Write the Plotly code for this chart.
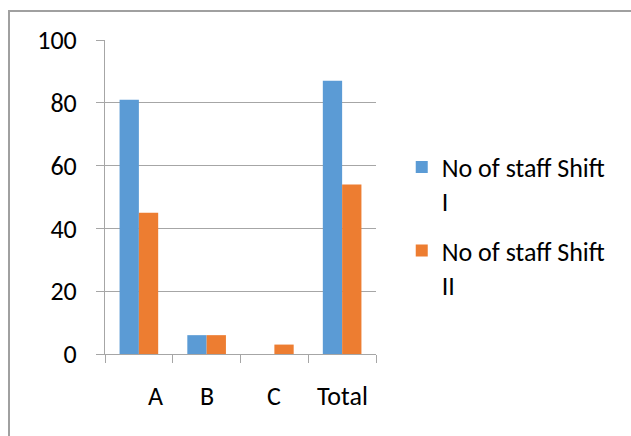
import plotly.graph_objects as go

categories = ["A", "B", "C", "Total"]
shift1 = [81, 6, 0, 87]
shift2 = [45, 6, 3, 54]
series_names = ["No of staff Shift<br>I", "No of staff Shift<br>II"]
y_ticks = [0, 20, 40, 60, 80, 100]

FONT = "Carlito, Lato, 'Open Sans', sans-serif"
FS = 26
L, R, T, B = 105, 255, 40, 82
W, H = 631, 436
pw = W - L - R
ph = H - T - B

fig = go.Figure()
fig.add_trace(go.Bar(x=categories, y=shift1, name=series_names[0],
                     marker=dict(color="#5B9BD5", line=dict(width=0)), legendgroup="g1"))
fig.add_trace(go.Bar(x=categories, y=shift2, name=series_names[1],
                     marker=dict(color="#ED7D31", line=dict(width=0)), legendgroup="g2"))

label_shift = {"A": 17}
for c in categories:
    fig.add_annotation(x=c, y=0, xref="x", yref="y", text=c, showarrow=False,
                       yanchor="middle", yshift=-42, xshift=label_shift.get(c, 0),
                       font=dict(family=FONT, size=FS, color="#000000"))

# outer chart border
fig.add_shape(type="rect", xref="paper", yref="paper",
              x0=(9 - L) / pw, x1=(W + 20 - L) / pw,
              y0=-(H + 20 - (H - B)) / ph, y1=(H - B - 11) / ph,
              line=dict(color="#A0A0A0", width=2), layer="below")

fig.update_layout(
    width=W, height=H,
    margin=dict(l=L, r=R, t=T, b=B),
    paper_bgcolor="white", plot_bgcolor="white",
    barmode="group", bargap=0.43, bargroupgap=0,
    font=dict(family=FONT, size=FS, color="#000000"),
    showlegend=True,
    legend=dict(x=1.095, xanchor="left", y=0.67, yanchor="top",
                valign="top", traceorder="grouped", tracegroupgap=13,
                font=dict(family=FONT, size=FS, color="#000000"),
                bgcolor="rgba(0,0,0,0)"),
    xaxis=dict(showticklabels=False, ticks="outside", ticklen=8, tickcolor="#A6A6A6",
               tickson="boundaries", showline=True, linecolor="#A6A6A6", linewidth=1,
               showgrid=False, zeroline=False),
    yaxis=dict(range=[0, 100], tickvals=y_ticks, ticks="outside", ticklen=8,
               tickcolor="#A6A6A6", showline=True, linecolor="#A6A6A6", linewidth=1,
               showgrid=True, gridcolor="#A6A6A6", gridwidth=1, zeroline=False,
               ticklabelstandoff=14,
               tickfont=dict(family=FONT, size=FS, color="#000000")),
)

fig.write_html("out.html")
